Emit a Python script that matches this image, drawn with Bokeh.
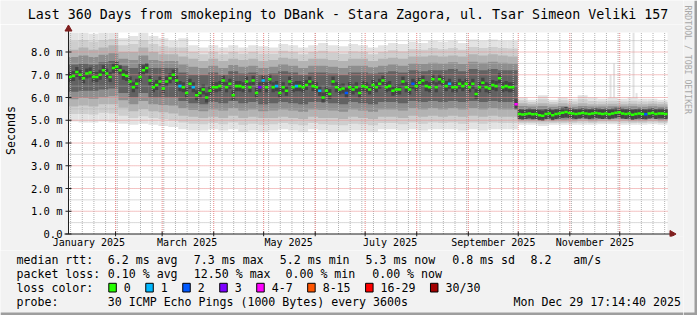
import datetime as dt
import numpy as np
from bokeh.plotting import figure
from bokeh.layouts import row, column
from bokeh.models import Range1d, FixedTicker
from bokeh.core.properties import value
from bokeh.embed import file_html
from bokeh.resources import INLINE

# ---------------- data ----------------
TITLE = "Last 360 Days from smokeping to DBank - Stara Zagora, ul. Tsar Simeon Veliki 157"
END_TIME = dt.datetime(2025, 12, 29, 17, 14, 40)
SPAN_DAYS = 360
Y_MAX = 8.86

X_LABEL_MONTHS = [1, 3, 5, 7, 9, 11]
X_LABELS = ["January 2025", "March 2025", "May 2025", "July 2025",
            "September 2025", "November 2025"]
Y_TICKS = [0, 1, 2, 3, 4, 5, 6, 7, 8]
Y_LABELS = ["0.0", "1.0 m", "2.0 m", "3.0 m", "4.0 m", "5.0 m", "6.0 m", "7.0 m", "8.0 m"]

# median rtt (ms), one value per 2-day bin
MEDIAN = [
    6.90, 6.95, 7.12, 7.00, 6.85, 7.05, 7.10, 6.90, 6.90, 7.00,
    7.20, 7.05, 6.90, 7.30, 7.35, 7.20, 7.00, 6.95, 6.70, 6.45,
    6.60, 6.90, 7.20, 7.30, 6.75, 6.45, 6.55, 6.70, 6.40, 6.70,
    6.85, 7.00, 6.75, 6.50, 6.45, 6.20, 6.60, 6.45, 6.10, 6.20,
    6.35, 6.00, 6.30, 6.45, 6.45, 6.50, 6.75, 6.45, 6.60, 6.10,
    6.50, 6.50, 6.45, 6.70, 6.45, 6.75, 6.20, 6.45, 6.75, 6.45,
    6.80, 6.45, 6.50, 6.20, 6.45, 6.30, 6.70, 6.45, 6.50, 6.50,
    6.45, 6.55, 6.70, 6.50, 6.45, 6.30, 6.00, 6.30, 6.15, 6.70,
    6.45, 6.35, 6.40, 6.20, 6.45, 6.35, 6.45, 6.20, 6.50, 6.45,
    6.35, 6.55, 6.45, 6.60, 6.75, 6.45, 6.50, 6.30, 6.35, 6.35,
    6.70, 6.45, 6.35, 6.60, 6.50, 6.65, 6.75, 6.50, 6.45, 6.80,
    6.45, 6.80, 6.70, 6.50, 6.60, 6.45, 6.45, 6.60, 6.50, 6.60,
    6.45, 6.60, 6.15, 6.45, 6.65, 6.45, 6.40, 6.55, 6.50, 6.85,
    6.45, 6.50, 6.45, 6.45, 5.70, 5.28, 5.25, 5.27, 5.30, 5.26,
    5.28, 5.22, 5.20, 5.27, 5.30, 5.22, 5.28, 5.30, 5.33, 5.36,
    5.32, 5.30, 5.28, 5.30, 5.32, 5.30, 5.28, 5.30, 5.32, 5.30,
    5.27, 5.30, 5.26, 5.30, 5.33, 5.35, 5.30, 5.28, 5.30, 5.24,
    5.27, 5.30, 5.28, 5.26, 5.30, 5.32, 5.28, 5.30, 5.30, 5.28,
]
# lost pings (of 30) per 2-day bin
LOSS = [0] * 180
for _i, _l in [(33, 1), (37, 1), (57, 3), (58, 1), (62, 1), (68, 1), (75, 1),
               (83, 2), (103, 2), (114, 1), (134, 5), (173, 2)]:
    LOSS[_i] = _l

# smoke distribution (ms), one value per 6-day bin
S_MAX = [8.85, 8.85, 8.80, 8.85, 8.85, 8.60, 8.70, 8.85, 8.70, 8.60,
         8.50, 8.60, 8.30, 8.20, 8.30, 8.20, 8.30, 8.20, 8.30, 8.25,
         8.20, 8.35, 8.30, 8.20, 8.30, 8.40, 8.30, 8.25, 8.35, 8.30,
         8.20, 8.30, 8.40, 8.35, 8.45, 8.40, 8.50, 8.45, 8.50, 8.40,
         8.55, 8.50, 8.55, 8.50, 8.50, 6.00, 5.90, 6.10, 5.90, 6.00,
         5.95, 6.10, 6.00, 5.95, 6.00, 5.95, 6.00, 5.95, 5.95, 5.90]
S_P90 = [8.10, 8.20, 8.10, 8.20, 8.30, 8.00, 8.00, 8.20, 8.00, 7.90,
         7.90, 7.80, 7.70, 7.60, 7.70, 7.60, 7.70, 7.65, 7.70, 7.60,
         7.65, 7.75, 7.70, 7.60, 7.70, 7.70, 7.65, 7.60, 7.70, 7.70,
         7.60, 7.70, 7.75, 7.70, 7.80, 7.80, 7.85, 7.80, 7.85, 7.80,
         7.90, 7.85, 7.90, 7.85, 7.80, 5.75, 5.70, 5.75, 5.70, 5.75,
         5.70, 5.75, 5.70, 5.70, 5.72, 5.70, 5.72, 5.70, 5.72, 5.70]
S_P75 = [7.45, 7.50, 7.45, 7.55, 7.60, 7.40, 7.30, 7.50, 7.30, 7.30,
         7.30, 7.10, 7.00, 7.00, 7.10, 7.00, 7.15, 7.05, 7.10, 7.00,
         7.05, 7.15, 7.10, 7.00, 7.10, 7.10, 7.05, 7.00, 7.10, 7.10,
         7.05, 7.10, 7.15, 7.10, 7.20, 7.15, 7.20, 7.20, 7.25, 7.15,
         7.25, 7.20, 7.25, 7.20, 7.20, 5.50, 5.50, 5.50, 5.48, 5.50,
         5.48, 5.50, 5.50, 5.50, 5.50, 5.50, 5.50, 5.48, 5.50, 5.48]
S_P25 = [6.25, 6.30, 6.30, 6.35, 6.40, 6.20, 6.00, 6.20, 6.00, 6.00,
         6.00, 5.85, 5.75, 5.70, 5.80, 5.75, 5.85, 5.75, 5.80, 5.70,
         5.75, 5.80, 5.75, 5.70, 5.80, 5.80, 5.75, 5.70, 5.80, 5.75,
         5.70, 5.80, 5.80, 5.75, 5.85, 5.80, 5.85, 5.80, 5.85, 5.80,
         5.85, 5.80, 5.85, 5.80, 5.80, 5.10, 5.10, 5.10, 5.10, 5.10,
         5.10, 5.12, 5.10, 5.12, 5.12, 5.12, 5.10, 5.10, 5.12, 5.10]
S_P10 = [5.60, 5.65, 5.60, 5.70, 5.70, 5.55, 5.40, 5.50, 5.40, 5.35,
         5.30, 5.20, 5.15, 5.10, 5.15, 5.10, 5.20, 5.10, 5.15, 5.10,
         5.10, 5.15, 5.10, 5.05, 5.15, 5.10, 5.10, 5.05, 5.15, 5.10,
         5.05, 5.15, 5.15, 5.10, 5.20, 5.15, 5.20, 5.15, 5.20, 5.15,
         5.20, 5.15, 5.20, 5.15, 5.15, 4.95, 4.95, 4.95, 4.95, 4.95,
         4.95, 4.98, 4.95, 4.98, 4.98, 4.98, 4.95, 4.95, 4.98, 4.95]
S_MIN = [4.95, 4.90, 4.90, 4.95, 4.90, 4.85, 4.80, 4.85, 4.80, 4.75,
         4.70, 4.60, 4.55, 4.55, 4.60, 4.55, 4.60, 4.50, 4.55, 4.50,
         4.55, 4.60, 4.55, 4.50, 4.60, 4.55, 4.50, 4.50, 4.55, 4.55,
         4.50, 4.60, 4.60, 4.55, 4.60, 4.55, 4.60, 4.60, 4.60, 4.55,
         4.60, 4.55, 4.60, 4.60, 4.60, 4.80, 4.80, 4.75, 4.80, 4.80,
         4.80, 4.80, 4.80, 4.82, 4.82, 4.80, 4.80, 4.80, 4.82, 4.80]
# isolated slow samples after the September drop (day offset from Jan 1, ms)
SPIKE_DAY = [328.5, 330.6, 342.3, 344.1]
SPIKE_TOP = [7.0, 7.5, 8.85, 6.2]

RTT_STATS = [6.2, 7.3, 5.2, 5.3]       # avg, max, min, now (ms)
RTT_SD = 0.8
AM_S = 8.2
LOSS_STATS = [0.10, 12.50, 0.00, 0.00]  # avg, max, min, now (%)
LOSS_LABELS = ["0", "1", "2", "3", "4-7", "8-15", "16-29", "30/30"]
PROBE = "30 ICMP Echo Pings (1000 Bytes) every 3600s"
STAMP = "Mon Dec 29 17:14:40 2025"
WATERMARK = "RRDTOOL / TOBI OETIKER"

# ---------------- style ----------------
LOSS_COLORS = ["#26ff00", "#00b8ff", "#0059ff", "#7e00ff",
               "#ff00ff", "#ff5500", "#ff0000", "#a10000"]
FONT = "DejaVu Sans Mono"
BG = "#f2f2f2"
SHADE_B = "#9e9e9e"
SMOKE = ["#e3e3e3", "#cecece", "#b3b3b3", "#8e8e8e", "#626262", "#444444"]
CORE_HALF = 0.22
MED_HALF = 0.055
GRID_MINOR = "#b4b4b4"
GRID_MAJOR = "#e88888"
AXIS_COL = "#1f1f1f"
ARROW_COL = "#801f1f"

EPOCH = dt.datetime(2025, 1, 1)
def day(t):
    return (t - EPOCH).total_seconds() / 86400.0

X1 = day(END_TIME)
X0 = X1 - SPAN_DAYS

# pixel geometry of the rrdtool canvas
W, H = 697, 315
SIDE_W = 14            # right strip (watermark + shade)
MAIN_W = W - SIDE_W
TOP_H = 24             # title strip
LEG_Y = 250            # legend block starts here
PX0, PY0 = 67.0, 233.5
KX = SPAN_DAYS / 600.0
KY = 22.75
FL, FB = 62, 236

def dx(px):
    return X0 + (px - PX0) * KX

def dy(py):
    return (PY0 - py) / KY

def no_align(fig):
    if "frame_align" in fig.properties():
        fig.frame_align = False
    return fig

def pixel_fig(x0, x1, y0, y1, fill=BG):
    f = figure(width=x1 - x0, height=y1 - y0, output_backend="svg", toolbar_location=None,
               x_range=Range1d(x0, x1), y_range=Range1d(y1, y0),
               min_border_left=0, min_border_right=0, min_border_top=0, min_border_bottom=0,
               background_fill_color=fill, border_fill_color=fill, outline_line_color=None,
               x_axis_location=None, y_axis_location=None)
    f.title.visible = False
    f.grid.visible = False
    return no_align(f)

# ---------------- main graph ----------------
p = figure(width=MAIN_W, height=LEG_Y - TOP_H, output_backend="svg", toolbar_location=None,
           x_range=Range1d(dx(FL), dx(MAIN_W)), y_range=Range1d(dy(FB), dy(TOP_H)),
           min_border_left=FL, min_border_right=0,
           min_border_top=0, min_border_bottom=LEG_Y - FB,
           background_fill_color=BG, border_fill_color=BG,
           outline_line_color=None)
no_align(p)
p.title.visible = False
p.xgrid.visible = False
p.ygrid.visible = False

# canvas (white plot area)
p.quad(left=[X0], right=[X1], bottom=[0], top=[Y_MAX], fill_color="white", line_color=None)

# smoke
ns = len(S_MAX)
sw = SPAN_DAYS / ns
sl = [X0 + i * sw for i in range(ns)]
sr = [X0 + (i + 1) * sw for i in range(ns)]
def mid(a, b):
    return [(u + v) / 2.0 for u, v in zip(a, b)]

p.quad(left=sl, right=sr, bottom=S_MIN, top=S_MAX, fill_color=SMOKE[0], line_color=None)
sb = [S_MAX[int((d - X0) // sw)] - 0.3 for d in SPIKE_DAY]
p.quad(left=[d - 0.6 for d in SPIKE_DAY], right=[d + 0.6 for d in SPIKE_DAY],
       bottom=sb, top=SPIKE_TOP, fill_color=SMOKE[0], line_color=None)
p.quad(left=sl, right=sr, bottom=mid(S_MIN, S_P10), top=mid(S_P90, S_MAX),
       fill_color=SMOKE[1], line_color=None)
p.quad(left=sl, right=sr, bottom=S_P10, top=S_P90, fill_color=SMOKE[2], line_color=None)
p.quad(left=sl, right=sr, bottom=mid(S_P10, S_P25), top=mid(S_P75, S_P90),
       fill_color=SMOKE[3], line_color=None)
p.quad(left=sl, right=sr, bottom=S_P25, top=S_P75, fill_color=SMOKE[4], line_color=None)

nm = len(MEDIAN)
mw = SPAN_DAYS / nm
ml = [X0 + i * mw for i in range(nm)]
mr = [X0 + (i + 1) * mw for i in range(nm)]
p.quad(left=ml, right=mr, bottom=[m - CORE_HALF for m in MEDIAN],
       top=[m + CORE_HALF for m in MEDIAN], fill_color=SMOKE[5], line_color=None)

# grid
hy = [k * 0.5 for k in range(1, int(Y_MAX * 2) + 1)]
hmin = [y for y in hy if y != int(y)]
hmaj = [y for y in hy if y == int(y)]
p.segment(x0=[X0] * len(hmin), y0=hmin, x1=[X1] * len(hmin), y1=hmin,
          line_color=GRID_MINOR, line_dash="1 1", line_width=1)
sundays = []
d = dt.datetime(2025, 1, 5)
while day(d) < X1:
    if day(d) > X0:
        sundays.append(day(d))
    d += dt.timedelta(days=7)
months = [day(dt.datetime(2025, m, 1)) for m in range(2, 13)]
p.segment(x0=sundays, y0=[0] * len(sundays), x1=sundays, y1=[Y_MAX] * len(sundays),
          line_color=GRID_MINOR, line_dash="1 1", line_width=1)
p.segment(x0=[X0] * len(hmaj), y0=hmaj, x1=[X1] * len(hmaj), y1=hmaj,
          line_color=GRID_MAJOR, line_dash="1 1", line_width=1)
p.segment(x0=months, y0=[0] * len(months), x1=months, y1=[Y_MAX] * len(months),
          line_color=GRID_MAJOR, line_dash="1 1", line_width=1)

# median, coloured by loss
def bucket(l):
    if l <= 3:
        return l
    if l <= 7:
        return 4
    if l <= 15:
        return 5
    if l <= 29:
        return 6
    return 7

p.quad(left=ml, right=mr, bottom=[m - MED_HALF for m in MEDIAN],
       top=[m + MED_HALF for m in MEDIAN],
       fill_color=[LOSS_COLORS[bucket(l)] for l in LOSS], line_color=None)

# axis lines, ticks and arrows
p.segment(x0=[X0], y0=[0], x1=[X0], y1=[dy(26)], line_color=AXIS_COL, line_width=1)
p.segment(x0=[dx(63)], y0=[0], x1=[dx(671)], y1=[0], line_color=AXIS_COL, line_width=1)
p.segment(x0=[dx(64)] * len(Y_TICKS), y0=Y_TICKS, x1=[dx(70)] * len(Y_TICKS), y1=Y_TICKS,
          line_color=AXIS_COL, line_width=1)
p.segment(x0=months, y0=[dy(236)] * len(months), x1=months, y1=[dy(231)] * len(months),
          line_color=AXIS_COL, line_width=1)
p.scatter(x=[X0], y=[dy(28.5)], marker="triangle", size=7,
          fill_color=ARROW_COL, line_color=ARROW_COL)
p.scatter(x=[dx(671.5)], y=[0], marker="triangle", size=7, angle=-np.pi / 2,
          fill_color=ARROW_COL, line_color=ARROW_COL)

# tick labels through bokeh axes
label_days = [int(day(dt.datetime(2025, m, 1))) + 15 for m in X_LABEL_MONTHS]
xa = p.xaxis[0]
xa.ticker = FixedTicker(ticks=label_days)
xa.major_label_overrides = {d: s for d, s in zip(label_days, X_LABELS)}
ya = p.yaxis[0]
ya.ticker = FixedTicker(ticks=Y_TICKS)
ya.major_label_overrides = {t: s for t, s in zip(Y_TICKS, Y_LABELS)}
for ax in (xa, ya):
    ax.axis_line_color = None
    ax.major_tick_line_color = None
    ax.minor_tick_line_color = None
    ax.major_tick_out = 0
    ax.major_tick_in = 0
    ax.minor_tick_out = 0
    ax.minor_tick_in = 0
    ax.major_label_text_font = FONT
    ax.major_label_text_color = "#000000"
xa.major_label_text_font_size = "10px"
ya.major_label_text_font_size = "10.5px"
xa.major_label_standoff = 0
ya.major_label_standoff = 1
ya.axis_label = "Seconds"
ya.axis_label_text_font = FONT
ya.axis_label_text_font_size = "11.6px"
ya.axis_label_text_font_style = "normal"
ya.axis_label_text_color = "#000000"
ya.axis_label_standoff = 10

# ---------------- title strip ----------------
top = pixel_fig(0, MAIN_W, 0, TOP_H)
top.text(x=[347.5], y=[13.5], text=[TITLE], text_font=value(FONT),
         text_font_size="13.3px", text_align="center", text_baseline="middle",
         text_color="#000000")

# ---------------- legend block ----------------
q = pixel_fig(0, MAIN_W, LEG_Y, H)
L1, L2, L3, L4 = 259, 273, 287, 301
tx, ty, tt = [], [], []
def put(x, y, s):
    tx.append(x); ty.append(y); tt.append(s)

put(16, L1, "median rtt:")
put(107.3, L1, f"{RTT_STATS[0]:.1f} ms avg")
put(193.3, L1, f"{RTT_STATS[1]:.1f} ms max")
put(279.3, L1, f"{RTT_STATS[2]:.1f} ms min")
put(365.0, L1, f"{RTT_STATS[3]:.1f} ms now")
put(451.7, L1, f"{RTT_SD:.1f} ms sd")
put(530.0, L1, f"{AM_S:.1f}")
put(572.7, L1, "am/s")
put(16, L2, "packet loss:")
put(107.3, L2, f"{LOSS_STATS[0]:.2f} % avg")
put(193.3, L2, f"{LOSS_STATS[1]:.2f} % max")
put(285.0, L2, f"{LOSS_STATS[2]:.2f} % min")
put(371.7, L2, f"{LOSS_STATS[3]:.2f} % now")
put(16, L3, "loss color:")
bl, br = [], []
bx = 108.3
for lab in LOSS_LABELS:
    bl.append(bx); br.append(bx + 7.5)
    put(bx + 15, L3, lab)
    bx = bx + 15 + len(lab) * 6.98 + 15
put(16, L4, "probe:")
put(107.3, L4, PROBE)

q.text(x=tx, y=ty, text=tt, text_font=value(FONT), text_font_size="11.6px",
       text_align="left", text_baseline="middle", text_color="#000000")
q.text(x=[680.5], y=[L4], text=[STAMP], text_font=value(FONT), text_font_size="11.6px",
       text_align="right", text_baseline="middle", text_color="#000000")
q.quad(left=bl, right=br, top=[282.8] * len(bl), bottom=[291.5] * len(bl),
       fill_color=LOSS_COLORS, line_color="#000000", line_width=1)
q.quad(left=[0], right=[MAIN_W], top=[H - 3], bottom=[H], fill_color=SHADE_B, line_color=None)

# ---------------- right strip ----------------
side = pixel_fig(MAIN_W, W, 0, H)
side.text(x=[687.5], y=[5], text=[WATERMARK], text_font=value(FONT),
          text_font_size="8.2px", text_align="left", text_baseline="middle",
          text_color="#a8a8a8", angle=-np.pi / 2)
side.quad(left=[W - 3], right=[W], top=[0], bottom=[H], fill_color=SHADE_B, line_color=None)
side.quad(left=[MAIN_W], right=[W], top=[H - 3], bottom=[H], fill_color=SHADE_B, line_color=None)

layout = row(column(top, p, q, spacing=0), side, spacing=0)
open("out.html", "w").write(file_html(layout, INLINE))
